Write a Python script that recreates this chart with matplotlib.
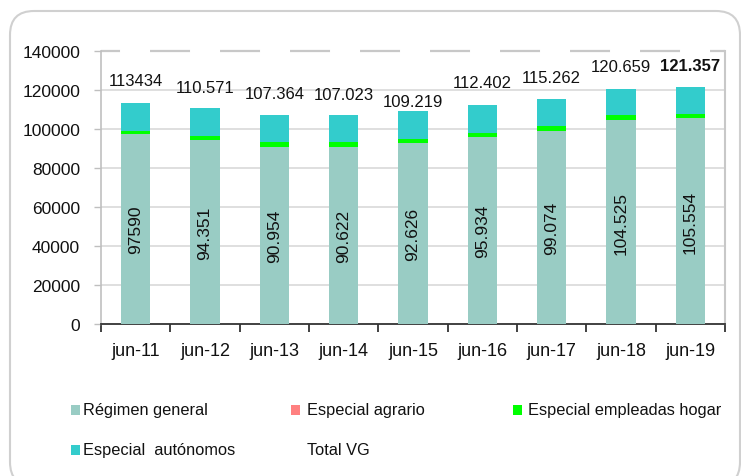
import matplotlib
matplotlib.use("Agg")
import matplotlib.pyplot as plt
from matplotlib.patches import FancyBboxPatch, Rectangle
import numpy as np

plt.rcParams['font.family'] = ['Liberation Sans', 'DejaVu Sans']
plt.rcParams['lines.scale_dashes'] = False

# data
periods = ["jun-11", "jun-12", "jun-13", "jun-14", "jun-15", "jun-16", "jun-17", "jun-18", "jun-19"]
general = [97590, 94351, 90954, 90622, 92626, 95934, 99074, 104525, 105554]
agrario = [0, 0, 0, 0, 0, 0, 0, 0, 0]
hogar = [1500, 2000, 2300, 2800, 2000, 2200, 2600, 2800, 2000]
total = [113434, 110571, 107364, 107023, 109219, 112402, 115262, 120659, 121357]
general_labels = ["97590", "94.351", "90.954", "90.622", "92.626", "95.934", "99.074", "104.525", "105.554"]
total_labels = ["113434", "110.571", "107.364", "107.023", "109.219", "112.402", "115.262", "120.659", "121.357"]
autonomos = [t - g - a - h for t, g, a, h in zip(total, general, agrario, hogar)]

# label offsets in points above bar top (jun-15 sits lower in the original)
label_dy = [16, 15, 15, 15, 7, 16, 16, 16, 16]

c_gen = "#99CCC4"
c_agr = "#FF8080"
c_hog = "#00FF00"
c_aut = "#33CCCC"

W, H = 741, 477
fig = plt.figure(figsize=(W / 100, H / 100), dpi=100)
ax = fig.add_axes([101 / W, 1 - 325 / H, (725 - 101) / W, (325 - 52) / H])

x = np.arange(len(periods))
bw = 0.42
b1 = np.array(general)
b2 = b1 + np.array(agrario)
b3 = b2 + np.array(hogar)
ax.bar(x, general, bw, color=c_gen, zorder=3)
ax.bar(x, agrario, bw, bottom=b1, color=c_agr, zorder=3)
ax.bar(x, hogar, bw, bottom=b2, color=c_hog, zorder=3)
ax.bar(x, autonomos, bw, bottom=b3, color=c_aut, zorder=3)

for i in range(len(periods)):
    ax.text(x[i], general[i] / 2, general_labels[i], rotation=90, ha="center", va="center",
            fontsize=12.5, color="#111111", zorder=4)
    ax.annotate(total_labels[i], (x[i], total[i]), xytext=(0, label_dy[i]), textcoords="offset points",
                ha="center", va="center", fontsize=12, color="#111111",
                fontweight="bold" if i == len(periods) - 1 else "normal", zorder=4)

ax.set_xlim(-0.5, len(periods) - 0.5)
ax.set_ylim(0, 140000)
ax.set_yticks(np.arange(0, 140001, 20000))
ax.set_xticks(x)
ax.set_xticklabels(periods, fontsize=13)
ax.set_xticks(np.arange(-0.5, len(periods), 1), minor=True)
ax.tick_params(axis="x", which="major", length=0, pad=13, colors="#111111")
ax.tick_params(axis="x", which="minor", length=6, width=1.3, color="#333333", direction="out")
ax.tick_params(axis="y", length=5, width=1, color="#BFBFBF", pad=10, labelsize=12.5, labelcolor="#111111")

for yv in range(20000, 140000, 20000):
    ax.axhline(yv, color="#D9D9D9", lw=1.2, zorder=1)
# dashed top border: 40px dash, 30px gap (points at 100 dpi)
ax.axhline(140000, color="#C8C8C8", lw=1.6, linestyle=(15.1, (28.8, 21.6)), zorder=1, clip_on=False)

ax.spines["top"].set_visible(False)
ax.spines["left"].set_color("#C0C0C0")
ax.spines["left"].set_linewidth(1.2)
ax.spines["right"].set_color("#C8C8C8")
ax.spines["right"].set_linewidth(1.5)
ax.spines["bottom"].set_color("#333333")
ax.spines["bottom"].set_linewidth(1.3)

# outer rounded frame (bottom edge runs off the picture)
frame = FancyBboxPatch((10, -10), 730, 475, boxstyle="round,pad=0,rounding_size=24",
                       transform=None, facecolor="none", edgecolor="#D0D0D0", lw=1.5)
fig.add_artist(frame)

# legend, laid out like the original (two rows)
legend_items = [("Régimen general", c_gen, 71, 83, 411), ("Especial agrario", c_agr, 291, 307, 411),
                ("Especial empleadas hogar", c_hog, 513, 528, 411), ("Especial  autónomos", c_aut, 71, 83, 451),
                ("Total VG", None, 291, 307, 451)]
for name, col, mx, tx, ly in legend_items:
    if col is not None:
        fig.add_artist(Rectangle((mx / W, 1 - (ly + 5) / H), 9 / W, 10 / H,
                                 transform=fig.transFigure, facecolor=col, edgecolor="none"))
    fig.text(tx / W, 1 - ly / H, name, fontsize=11.8, va="center", ha="left", color="#111111")

fig.savefig("out.png", dpi=100)
